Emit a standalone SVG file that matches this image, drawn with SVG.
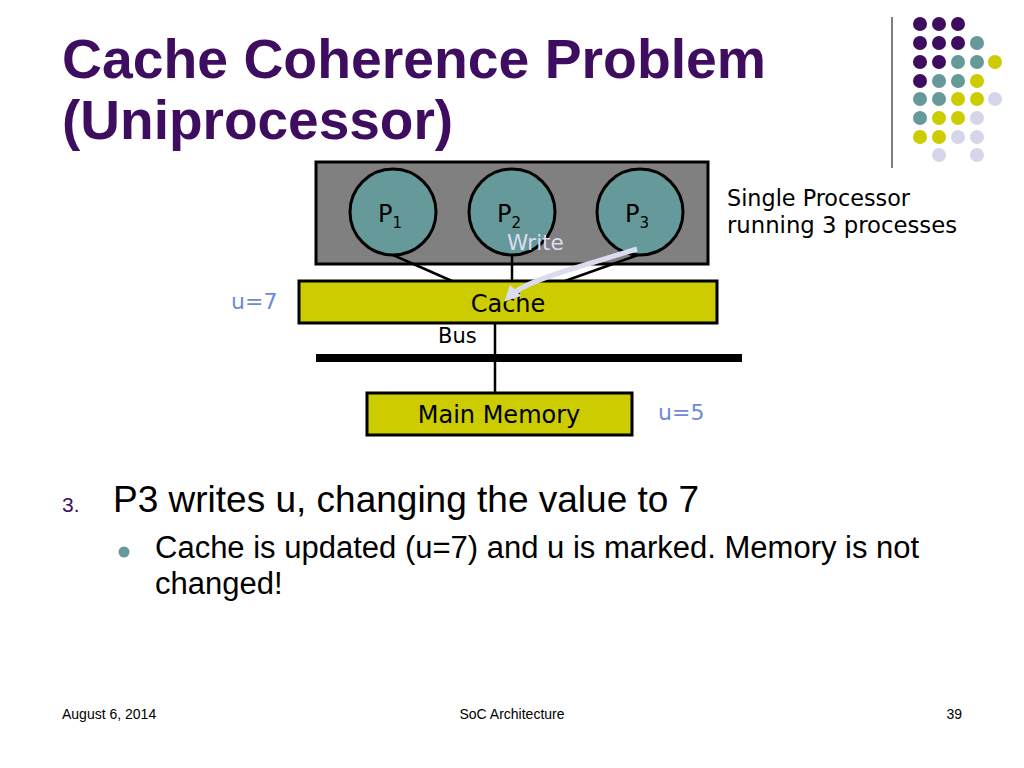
<svg xmlns="http://www.w3.org/2000/svg" width="1024" height="768" viewBox="0 0 1024 768">
<style>
.title{font-family:"Liberation Sans",Arial,sans-serif;font-weight:bold;font-size:55px;fill:#3f0d5f}
.v{font-family:"DejaVu Sans",Verdana,sans-serif;fill:#000}
.val{font-family:"DejaVu Sans",Verdana,sans-serif;font-size:22px;fill:#6f8ad8}
.body{font-family:"Liberation Sans",Arial,sans-serif;fill:#000}
.foot{font-family:"Liberation Sans",Arial,sans-serif;font-size:14px;fill:#000}
.box{stroke:#000;stroke-width:3}
.proc{fill:#669999;stroke:#000;stroke-width:3}
.pu{fill:#3f0d5f}.te{fill:#669999}.ye{fill:#cccc00}.la{fill:#d6d6ea}
.wire{stroke:#000;stroke-width:2.5;fill:none}
</style>
<defs>
<marker id="ah" viewBox="0 0 10 10" refX="5" refY="5" markerWidth="3.2" markerHeight="3.2" orient="auto" markerUnits="strokeWidth">
<path d="M0,0 L10,5 L0,10 z" fill="#dcdcf0"/>
</marker>
</defs>
<rect width="1024" height="768" fill="#fff"/>
<g id="decor">
<line x1="892" y1="17" x2="892" y2="168" stroke="#555" stroke-width="1.5"/>
<g>
<circle cx="920" cy="24" r="7" class="pu"/><circle cx="939" cy="24" r="7" class="pu"/><circle cx="958" cy="24" r="7" class="pu"/>
<circle cx="920" cy="43" r="7" class="pu"/><circle cx="939" cy="43" r="7" class="pu"/><circle cx="958" cy="43" r="7" class="pu"/><circle cx="977" cy="43" r="7" class="te"/>
<circle cx="920" cy="62" r="7" class="pu"/><circle cx="939" cy="62" r="7" class="pu"/><circle cx="958" cy="62" r="7" class="te"/><circle cx="977" cy="62" r="7" class="te"/><circle cx="995" cy="62" r="7" class="ye"/>
<circle cx="920" cy="81" r="7" class="pu"/><circle cx="939" cy="81" r="7" class="te"/><circle cx="958" cy="81" r="7" class="te"/><circle cx="977" cy="81" r="7" class="ye"/>
<circle cx="920" cy="99" r="7" class="te"/><circle cx="939" cy="99" r="7" class="te"/><circle cx="958" cy="99" r="7" class="ye"/><circle cx="977" cy="99" r="7" class="ye"/><circle cx="995" cy="99" r="7" class="la"/>
<circle cx="920" cy="118" r="7" class="te"/><circle cx="939" cy="118" r="7" class="ye"/><circle cx="958" cy="118" r="7" class="ye"/><circle cx="977" cy="118" r="7" class="la"/>
<circle cx="920" cy="137" r="7" class="ye"/><circle cx="939" cy="137" r="7" class="ye"/><circle cx="958" cy="137" r="7" class="la"/><circle cx="977" cy="137" r="7" class="la"/>
<circle cx="939" cy="155" r="7" class="la"/><circle cx="977" cy="155" r="7" class="la"/>
</g>
</g>
<g id="title">
<text x="62" y="78" class="title" textLength="704" lengthAdjust="spacingAndGlyphs">Cache Coherence Problem</text>
<text x="62" y="139" class="title">(Uniprocessor)</text>
</g>
<g id="processor">
<rect x="316" y="162" width="392" height="102" fill="#808080" class="box"/>
</g>
<g id="connectors">
<line x1="393" y1="255" x2="452" y2="281" class="wire"/>
<line x1="512" y1="255" x2="512" y2="281" class="wire"/>
<line x1="638" y1="255" x2="565" y2="281" class="wire"/>
<line x1="495" y1="323" x2="495" y2="392" class="wire"/>
<line x1="316" y1="358" x2="742" y2="358" stroke="#000" stroke-width="8"/>
</g>
<g id="p1">
<circle cx="393" cy="212" r="43" class="proc"/>
<text x="378" y="222" class="v" font-size="24">P<tspan font-size="15" dy="6">1</tspan></text>
</g>
<g id="p2">
<circle cx="512" cy="212" r="43" class="proc"/>
<text x="497" y="222" class="v" font-size="24">P<tspan font-size="15" dy="6">2</tspan></text>
</g>
<g id="p3">
<circle cx="640" cy="212" r="43" class="proc"/>
<text x="625" y="222" class="v" font-size="24">P<tspan font-size="15" dy="6">3</tspan></text>
</g>
<g id="cache">
<rect x="299" y="281" width="418" height="42" fill="#cccc00" class="box"/>
<text x="508" y="312" class="v" font-size="24" text-anchor="middle">Cache</text>
</g>
<g id="memory">
<rect x="367" y="393" width="265" height="42" fill="#cccc00" class="box"/>
<text x="499" y="423" class="v" font-size="24" text-anchor="middle">Main Memory</text>
</g>
<g id="write">
<path d="M637,249 L565,271 Q521,285 510,296" stroke="#dcdcf0" stroke-width="5" fill="none" marker-end="url(#ah)"/>
<text x="507" y="250" class="v" font-size="21.5" style="fill:#dcdcf0">Write</text>
</g>
<g id="labels">
<text x="438" y="343" class="v" font-size="21">Bus</text>
<text x="231" y="309" class="val">u=7</text>
<text x="658" y="420" class="val">u=5</text>
<text x="727" y="206" class="v" font-size="22.3">Single Processor</text>
<text x="727" y="233" class="v" font-size="22.3" textLength="230" lengthAdjust="spacingAndGlyphs">running 3 processes</text>
</g>
<g id="bullets">
<text x="62" y="512" font-family="Liberation Sans,Arial,sans-serif" font-size="21" fill="#3f0d5f">3.</text>
<text x="113" y="512" class="body" font-size="37">P3 writes u, changing the value to 7</text>
<circle cx="124" cy="552" r="5.5" fill="#669999"/>
<text x="155" y="558" class="body" font-size="31">Cache is updated (u=7) and u is marked. Memory is not</text>
<text x="155" y="594" class="body" font-size="31">changed!</text>
</g>
<g id="footer">
<text x="62" y="719" class="foot">August 6, 2014</text>
<text x="512" y="719" class="foot" text-anchor="middle">SoC Architecture</text>
<text x="962" y="719" class="foot" text-anchor="end">39</text>
</g>
</svg>
